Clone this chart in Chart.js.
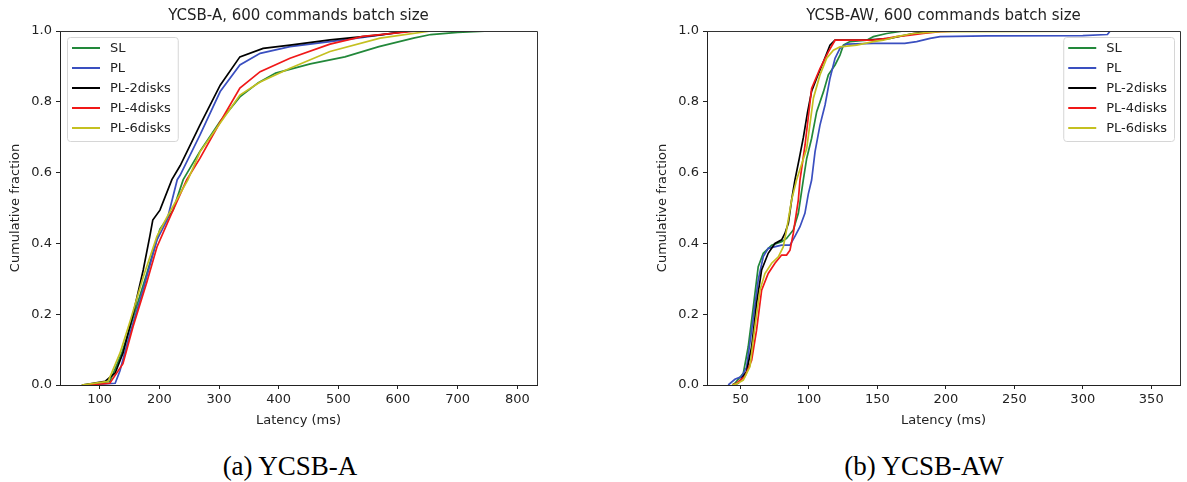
<!DOCTYPE html>
<html><head><meta charset="utf-8">
<script src="https://cdn.jsdelivr.net/npm/chart.js@4.4.0/dist/chart.umd.min.js"></script>
<style>
html,body{margin:0;padding:0;background:#fff;width:1187px;height:482px;overflow:hidden;position:relative;}
.wrap{position:absolute;top:0;height:435px;}
#w1{left:0;width:600px;}
#w2{left:647px;width:540px;}
.cap{position:absolute;top:451px;line-height:30px;font-family:"Liberation Serif","DejaVu Serif",serif;font-size:27px;color:#000;white-space:nowrap;transform:translateX(-50%);}
</style></head><body>
<div class="wrap" id="w1"><canvas id="c1" width="600" height="435"></canvas></div>
<div class="wrap" id="w2"><canvas id="c2" width="540" height="435"></canvas></div>
<div class="cap" style="left:290px">(a) YCSB-A</div>
<div class="cap" style="left:924px">(b) YCSB-AW</div>
<script>
// ---------- data ----------
const seriesNames = ['SL', 'PL', 'PL-2disks', 'PL-4disks', 'PL-6disks'];
const seriesColors = ['#22883a', '#3a4fc0', '#000000', '#f01818', '#c4c020'];

const yTicks = [0, 0.2, 0.4, 0.6, 0.8, 1.0];
const aXTicks = [100, 200, 300, 400, 500, 600, 700, 800];
const bXTicks = [50, 100, 150, 200, 250, 300, 350];

// YCSB-A
const aLatSL  = [75,117,137,156,179,201,223,240,268,302,335,366,395,453,511,568,626,655,700,754];
const aFracSL = [0,0.01,0.09,0.19,0.315,0.44,0.494,0.58,0.66,0.745,0.814,0.854,0.881,0.907,0.927,0.956,0.98,0.99,0.996,1.0];
const aLatPL  = [75,126,134,151,173,196,213,230,235,268,302,335,369,419,486,541,620];
const aFracPL = [0,0.005,0.04,0.147,0.27,0.41,0.466,0.58,0.593,0.706,0.829,0.904,0.937,0.956,0.97,0.982,1.0];
const aLatPL2  = [70,84,109,126,139,156,173,184,189,201,221,235,268,302,335,374,419,486,570,620];
const aFracPL2 = [0,0.003,0.01,0.034,0.09,0.2,0.325,0.42,0.466,0.494,0.58,0.62,0.734,0.847,0.927,0.951,0.96,0.975,0.989,1.0];
const aLatPL4  = [80,117,139,156,179,196,218,246,268,302,335,369,419,486,541,632];
const aFracPL4 = [0,0.005,0.06,0.165,0.29,0.39,0.475,0.58,0.64,0.743,0.839,0.885,0.923,0.963,0.985,1.0];
const aLatPL6  = [70,114,134,151,173,196,213,248,268,302,335,369,419,486,570,655];
const aFracPL6 = [0,0.01,0.09,0.18,0.305,0.42,0.475,0.58,0.658,0.74,0.819,0.856,0.895,0.942,0.98,1.0];

// YCSB-AW
const bLatSL  = [44,46,52.1,55.7,59.4,63,66.7,72.8,80.1,83.7,88.6,92.3,95.9,98.4,102,105.7,110.6,114.2,119.1,122.7,125.2,130,142.2,147.1,156.8,169,250];
const bFracSL = [0,0.005,0.033,0.108,0.22,0.334,0.372,0.395,0.405,0.414,0.438,0.485,0.579,0.64,0.697,0.772,0.828,0.876,0.904,0.932,0.96,0.97,0.974,0.984,0.993,1.0,1.0];
const bLatPL  = [41.1,46,50.9,54.5,58.2,63,66.7,70.3,80.1,86.2,89.8,93.5,97.1,99.6,102,104.5,108.1,111.8,115.4,119.1,122.7,127.6,147,170,178.7,188.5,195.8,230,300,318,320];
const bFracPL = [0,0.016,0.024,0.05,0.155,0.297,0.363,0.386,0.395,0.395,0.42,0.447,0.485,0.54,0.579,0.659,0.734,0.791,0.866,0.923,0.951,0.963,0.965,0.965,0.97,0.979,0.984,0.986,0.987,0.99,1.0];
const bLatPL2  = [44,48.4,54.5,58.2,61.8,65.5,70.3,75.2,80.1,82.5,85,87.4,89.8,93,96,99,102,106,110.6,115.4,119.1,142.2,159.2,176.3,186,196,300];
const bFracPL2 = [0,0.005,0.038,0.108,0.23,0.325,0.372,0.40,0.41,0.428,0.457,0.523,0.579,0.64,0.70,0.77,0.83,0.87,0.913,0.96,0.974,0.974,0.979,0.993,0.998,1.0,1.0];
const bLatPL4  = [44,47.2,53.3,58.2,61.8,65.5,70.3,75.2,80.1,83.7,86.2,88.6,92.3,93.5,97.2,102,108.1,114.2,119.1,147.1,156.8,164.1,173.8,183.6,195.8,210,280];
const bFracPL4 = [0,0.005,0.024,0.07,0.155,0.268,0.315,0.344,0.367,0.367,0.381,0.428,0.523,0.579,0.678,0.838,0.894,0.941,0.974,0.974,0.979,0.984,0.988,0.993,0.998,1.0,1.0];
const bLatPL6  = [44,47.2,52.1,57,60.6,64.3,67.9,72.8,77.7,81.3,83.7,87.4,91,98.4,103.3,108.1,113,117.9,122.7,134.9,147.1,154.4,164.1,176.3,195.8,355];
const bFracPL6 = [0,0.003,0.014,0.052,0.165,0.268,0.315,0.344,0.362,0.39,0.438,0.523,0.579,0.668,0.81,0.876,0.923,0.946,0.955,0.96,0.97,0.974,0.984,0.993,0.998,1.0];

// ---------- helpers ----------
const FONT = '"DejaVu Sans", Verdana, sans-serif';
const pts = (xs, ys) => xs.map((x, i) => ({x: x, y: ys[i]}));

function makeDatasets(lats, fracs) {
  return seriesNames.map((name, i) => ({
    label: name,
    data: pts(lats[i], fracs[i]),
    borderColor: seriesColors[i],
    backgroundColor: seriesColors[i],
    borderWidth: 1.7,
    pointRadius: 0,
    tension: 0,
    fill: false,
    order: seriesNames.length - i
  }));
}

const frame = {
  id: 'frame',
  afterDraw(chart) {
    const {ctx, chartArea: ca} = chart;
    ctx.save();
    ctx.strokeStyle = '#333';
    ctx.lineWidth = 1;
    ctx.beginPath();
    ctx.moveTo(ca.left, ca.top + 0.5);
    ctx.lineTo(ca.right + 0.5, ca.top + 0.5);
    ctx.lineTo(ca.right + 0.5, ca.bottom);
    ctx.stroke();
    ctx.restore();
  }
};

const boxLegend = {
  id: 'boxLegend',
  afterDraw(chart, args, opts) {
    const {ctx, chartArea: ca} = chart;
    ctx.save();
    ctx.font = '13px ' + FONT;
    const ds = chart.data.datasets;
    const tw = Math.max(...ds.map(d => ctx.measureText(d.label).width));
    const w = 43 + tw + 7, h = 104;
    const x = opts.side === 'left' ? ca.left + 7 : ca.right - 6 - w;
    const y = ca.top + 6;
    ctx.beginPath();
    if (ctx.roundRect) ctx.roundRect(x + 0.5, y + 0.5, w, h, 3); else ctx.rect(x + 0.5, y + 0.5, w, h);
    ctx.fillStyle = 'rgba(255,255,255,0.85)';
    ctx.fill();
    ctx.strokeStyle = '#d6d6d6';
    ctx.lineWidth = 1;
    ctx.stroke();
    ds.forEach((d, i) => {
      const cy = y + 11 + i * 20;
      ctx.strokeStyle = d.borderColor;
      ctx.lineWidth = 2;
      ctx.beginPath();
      ctx.moveTo(x + 5, cy);
      ctx.lineTo(x + 33, cy);
      ctx.stroke();
      ctx.fillStyle = '#222';
      ctx.textBaseline = 'middle';
      ctx.textAlign = 'left';
      ctx.fillText(d.label, x + 43, cy + 1);
    });
    ctx.restore();
  }
};

function makeChart(id, title, lats, fracs, xmin, xmax, xTicks, legendSide, rightPad) {
  return new Chart(document.getElementById(id), {
    type: 'line',
    data: {datasets: makeDatasets(lats, fracs)},
    options: {
      responsive: false,
      animation: false,
      devicePixelRatio: 1,
      layout: {padding: {left: 0, right: rightPad, top: 0, bottom: 5}},
      plugins: {
        legend: {display: false},
        tooltip: {enabled: false},
        title: {
          display: true, text: title, fullSize: false,
          color: '#222', font: {family: FONT, size: 15, weight: 'normal', lineHeight: 1.2},
          padding: {top: 7, bottom: 6}
        },
        boxLegend: {side: legendSide}
      },
      scales: {
        x: {
          type: 'linear', min: xmin, max: xmax,
          afterBuildTicks: s => { s.ticks = xTicks.map(v => ({value: v})); },
          afterFit: s => { s.height = 45; },
          ticks: {color: '#222', font: {family: FONT, size: 13}, padding: 3, maxRotation: 0,
                  callback: v => String(v)},
          grid: {display: true, drawOnChartArea: false, drawTicks: true, tickLength: 4, color: '#222'},
          border: {display: true, color: '#222', width: 1},
          title: {display: true, text: 'Latency (ms)', color: '#222',
                  font: {family: FONT, size: 13, lineHeight: 1.2}, padding: {top: 0, bottom: 2}}
        },
        y: {
          type: 'linear', min: 0, max: 1,
          afterBuildTicks: s => { s.ticks = yTicks.map(v => ({value: v})); },
          afterFit: s => { s.width = 60; },
          ticks: {color: '#222', font: {family: FONT, size: 13}, padding: 4,
                  callback: v => Number(v).toFixed(1)},
          grid: {display: true, drawOnChartArea: false, drawTicks: true, tickLength: 4, color: '#222'},
          border: {display: true, color: '#222', width: 1},
          title: {display: true, text: 'Cumulative fraction', color: '#222',
                  font: {family: FONT, size: 13, lineHeight: 1.2}, padding: {top: 8, bottom: 0}}
        }
      }
    },
    plugins: [frame, boxLegend]
  });
}

makeChart('c1', 'YCSB-A, 600 commands batch size',
  [aLatSL, aLatPL, aLatPL2, aLatPL4, aLatPL6],
  [aFracSL, aFracPL, aFracPL2, aFracPL4, aFracPL6],
  33.5, 833, aXTicks, 'left', 63);

makeChart('c2', 'YCSB-AW, 600 commands batch size',
  [bLatSL, bLatPL, bLatPL2, bLatPL4, bLatPL6],
  [bFracSL, bFracPL, bFracPL2, bFracPL4, bFracPL6],
  25.6, 371, bXTicks, 'right', 7);
</script>
</body></html>
